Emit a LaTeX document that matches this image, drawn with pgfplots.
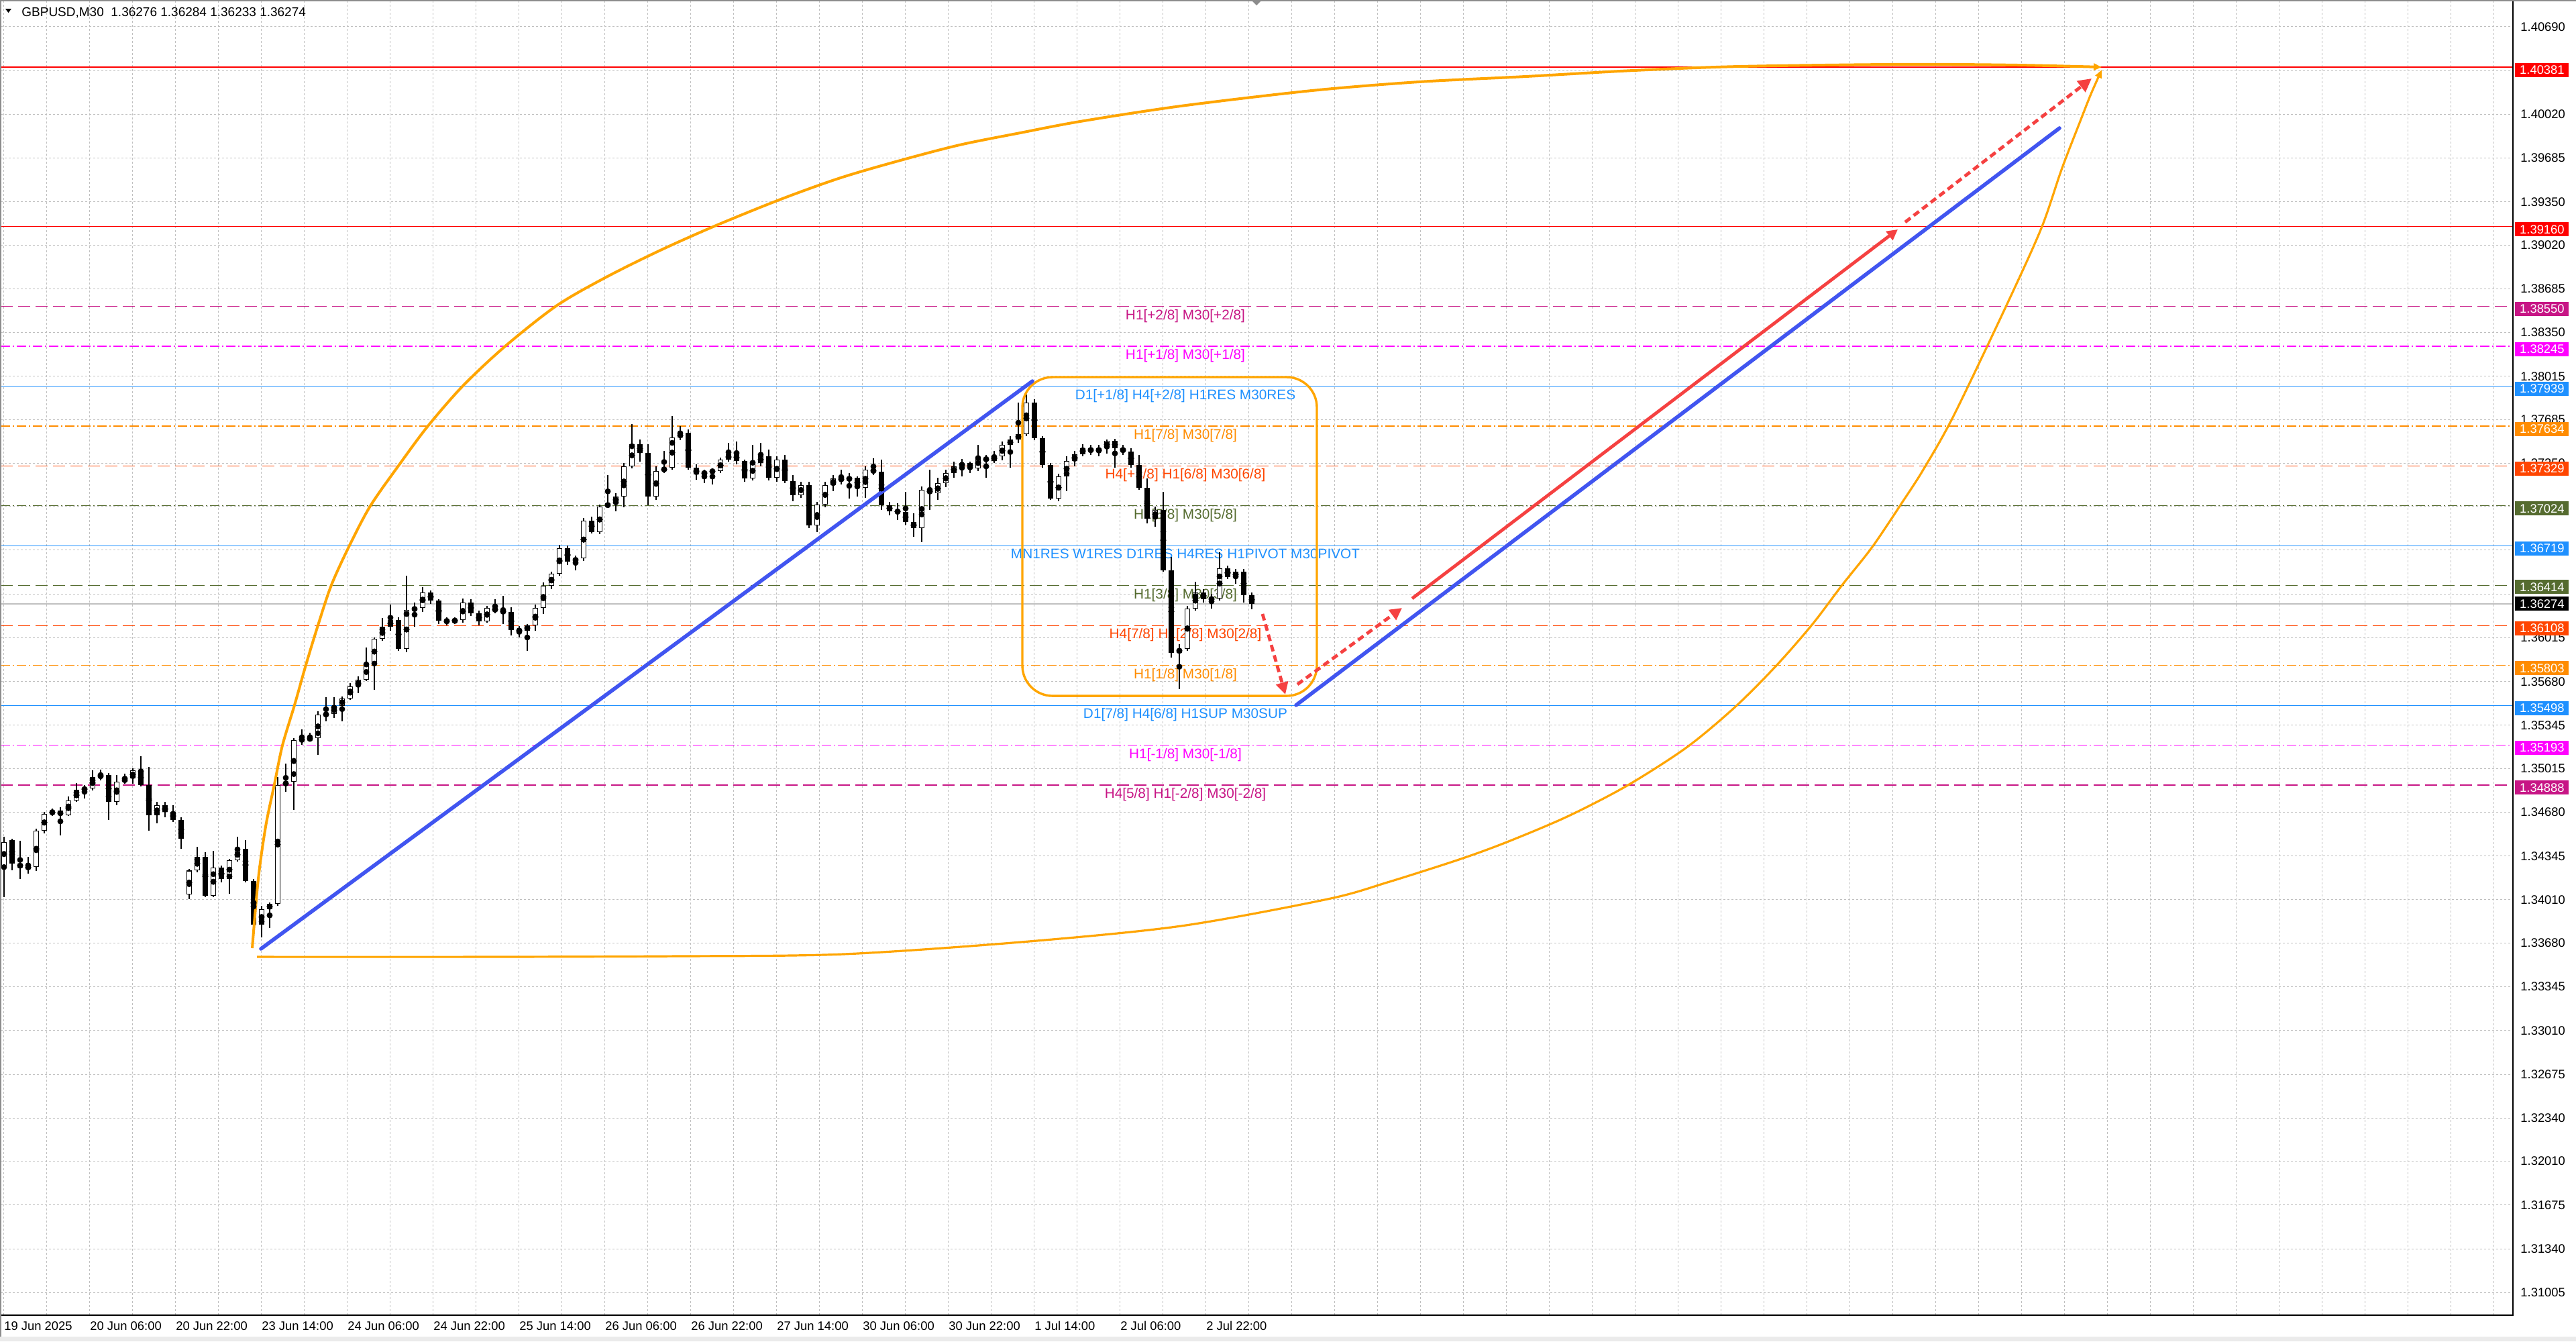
\documentclass[border=0pt]{standalone}
\usepackage{fontspec}
\setmainfont{Liberation Sans}
\usepackage{pgfplots}
\usepackage{pgfplotstable}
\pgfplotsset{compat=1.18}
\usetikzlibrary{arrows.meta}

\definecolor{dblue}{RGB}{30,144,255}
\definecolor{dorange}{RGB}{255,140,0}
\definecolor{ored}{RGB}{255,69,0}
\definecolor{dolive}{RGB}{85,107,47}
\definecolor{mvr}{RGB}{199,21,133}
\definecolor{mag}{RGB}{255,0,255}
\definecolor{lred}{RGB}{255,0,0}
\definecolor{curv}{RGB}{255,165,0}
\definecolor{tblue}{RGB}{65,85,240}
\definecolor{arred}{RGB}{245,65,65}
\definecolor{gridc}{RGB}{192,192,192}

\newcommand\tickfont{\fontsize{9.2pt}{11pt}\selectfont}
\newcommand\lvlfont{\fontsize{10.4pt}{12pt}\selectfont}
\newcommand\titlefont{\fontsize{9.5pt}{11pt}\selectfont}

\tikzset{lvldash/.style={dash pattern=on 9pt off 4pt},
         lvldot/.style={dash pattern=on 7pt off 2pt on 1pt off 2pt}}

\newcommand\lvl[2]{\addplot[#2, line width=0.6pt, forget plot] coordinates {(1,#1) (3746,#1)};}
\newcommand\lvltxt[3]{\node[anchor=north, inner sep=0pt, yshift=-2pt, text=#2, font=\lvlfont] at (axis cs:1767,#1) {#3};}
\newcommand\rlab[3]{\node[fill=#2, text=white, font=\tickfont, minimum width=40pt, minimum height=10.5pt, inner sep=0pt, anchor=west, yshift=#3] at (axis cs:3749,#1) {#1};}

% GBPUSD M30 candles (each row = one candle, open high low close)
\pgfplotstableread{
o h l c
1.34271 1.34492 1.34030 1.34451
1.34467 1.34477 1.34235 1.34287
1.34287 1.34462 1.34169 1.34256
1.34256 1.34338 1.34210 1.34261
1.34261 1.34553 1.34230 1.34538
1.34538 1.34682 1.34518 1.34667
1.34667 1.34707 1.34651 1.34692
1.34692 1.34718 1.34502 1.34656
1.34656 1.34800 1.34651 1.34770
1.34770 1.34903 1.34759 1.34852
1.34852 1.34888 1.34785 1.34862
1.34862 1.35001 1.34847 1.34949
1.34949 1.35006 1.34924 1.34964
1.34964 1.34980 1.34621 1.34759
1.34759 1.34964 1.34733 1.34913
1.34913 1.34975 1.34898 1.34939
1.34939 1.35016 1.34898 1.35001
1.35001 1.35108 1.34878 1.34888
1.34888 1.35027 1.34538 1.34656
1.34656 1.34759 1.34595 1.34733
1.34733 1.34759 1.34641 1.34682
1.34682 1.34733 1.34605 1.34621
1.34621 1.34641 1.34399 1.34477
1.34051 1.34245 1.34015 1.34235
1.34235 1.34415 1.34220 1.34338
1.34338 1.34374 1.34030 1.34040
1.34040 1.34384 1.34030 1.34256
1.34256 1.34271 1.34143 1.34169
1.34169 1.34323 1.34056 1.34313
1.34313 1.34492 1.34302 1.34399
1.34399 1.34467 1.34143 1.34154
1.34154 1.34169 1.33748 1.33820
1.33820 1.33963 1.33722 1.33937
1.33937 1.33989 1.33794 1.33979
1.33979 1.34949 1.33963 1.34888
1.34888 1.35052 1.34836 1.34913
1.34913 1.35247 1.34697 1.35232
1.35232 1.35314 1.35196 1.35237
1.35237 1.35288 1.35221 1.35247
1.35247 1.35452 1.35118 1.35426
1.35426 1.35560 1.35375 1.35431
1.35431 1.35560 1.35401 1.35494
1.35494 1.35565 1.35375 1.35550
1.35550 1.35668 1.35540 1.35643
1.35643 1.35720 1.35591 1.35694
1.35694 1.35940 1.35683 1.35812
1.35812 1.36017 1.35617 1.36007
1.36007 1.36166 1.35991 1.36099
1.36099 1.36269 1.36069 1.36150
1.36150 1.36171 1.35915 1.35930
1.35930 1.36490 1.35905 1.36228
1.36228 1.36284 1.36099 1.36243
1.36243 1.36403 1.36213 1.36362
1.36362 1.36377 1.36274 1.36300
1.36300 1.36310 1.36120 1.36146
1.36146 1.36171 1.36110 1.36141
1.36141 1.36171 1.36120 1.36150
1.36150 1.36315 1.36130 1.36284
1.36284 1.36310 1.36181 1.36202
1.36202 1.36223 1.36110 1.36141
1.36141 1.36259 1.36130 1.36243
1.36243 1.36310 1.36202 1.36218
1.36218 1.36336 1.36120 1.36213
1.36213 1.36248 1.36033 1.36074
1.36074 1.36105 1.36017 1.36069
1.36069 1.36120 1.35915 1.36110
1.36110 1.36269 1.36069 1.36243
1.36243 1.36438 1.36197 1.36413
1.36413 1.36521 1.36387 1.36505
1.36505 1.36726 1.36490 1.36700
1.36700 1.36721 1.36572 1.36598
1.36598 1.36644 1.36531 1.36624
1.36624 1.36932 1.36603 1.36911
1.36911 1.36942 1.36813 1.36824
1.36824 1.37034 1.36808 1.37018
1.37018 1.37260 1.37013 1.37044
1.37044 1.37121 1.36983 1.37096
1.37096 1.37352 1.37013 1.37326
1.37326 1.37650 1.37311 1.37496
1.37496 1.37532 1.37363 1.37429
1.37429 1.37496 1.37029 1.37096
1.37096 1.37326 1.37070 1.37291
1.37291 1.37445 1.37275 1.37316
1.37316 1.37712 1.37301 1.37548
1.37548 1.37634 1.37527 1.37583
1.37583 1.37609 1.37301 1.37316
1.37316 1.37342 1.37224 1.37265
1.37265 1.37301 1.37198 1.37286
1.37286 1.37311 1.37188 1.37291
1.37291 1.37394 1.37275 1.37378
1.37378 1.37506 1.37363 1.37419
1.37419 1.37516 1.37342 1.37368
1.37368 1.37378 1.37208 1.37234
1.37234 1.37491 1.37219 1.37352
1.37352 1.37506 1.37326 1.37404
1.37404 1.37455 1.37219 1.37240
1.37240 1.37404 1.37208 1.37378
1.37378 1.37414 1.37198 1.37214
1.37214 1.37260 1.37060 1.37106
1.37106 1.37208 1.37085 1.37183
1.37183 1.37208 1.36854 1.36875
1.36875 1.37054 1.36824 1.37034
1.37034 1.37208 1.37013 1.37183
1.37183 1.37260 1.37137 1.37234
1.37234 1.37301 1.37188 1.37224
1.37224 1.37275 1.37080 1.37240
1.37240 1.37250 1.37096 1.37162
1.37162 1.37326 1.37085 1.37301
1.37301 1.37389 1.37260 1.37286
1.37286 1.37378 1.36993 1.37029
1.37029 1.37054 1.36952 1.36983
1.36983 1.37044 1.36916 1.36978
1.36978 1.37131 1.36880 1.36901
1.36901 1.36967 1.36788 1.36854
1.36854 1.37172 1.36747 1.37147
1.37147 1.37301 1.36993 1.37121
1.37121 1.37240 1.37070 1.37198
1.37198 1.37301 1.37167 1.37275
1.37275 1.37363 1.37240 1.37326
1.37326 1.37383 1.37250 1.37352
1.37352 1.37363 1.37275 1.37311
1.37311 1.37491 1.37291 1.37394
1.37394 1.37414 1.37240 1.37368
1.37368 1.37445 1.37352 1.37404
1.37404 1.37516 1.37373 1.37491
1.37491 1.37558 1.37316 1.37532
1.37532 1.37815 1.37506 1.37573
1.37573 1.37876 1.37558 1.37815
1.37815 1.37840 1.37527 1.37542
1.37542 1.37558 1.37316 1.37337
1.37337 1.37352 1.37070 1.37080
1.37080 1.37270 1.37060 1.37250
1.37250 1.37404 1.37137 1.37368
1.37368 1.37445 1.37326 1.37419
1.37419 1.37496 1.37404 1.37465
1.37465 1.37491 1.37414 1.37440
1.37440 1.37491 1.37404 1.37465
1.37465 1.37532 1.37424 1.37522
1.37522 1.37537 1.37316 1.37465
1.37465 1.37491 1.37414 1.37440
1.37440 1.37465 1.37316 1.37337
1.37337 1.37414 1.37147 1.37162
1.37162 1.37234 1.36890 1.36927
1.36927 1.37018 1.36864 1.36993
1.36993 1.37131 1.36521 1.36531
1.36531 1.36634 1.35863 1.35900
1.35900 1.35966 1.35622 1.35930
1.35930 1.36259 1.35915 1.36238
1.36238 1.36443 1.36223 1.36362
1.36362 1.36387 1.36284 1.36310
1.36310 1.36351 1.36238 1.36315
1.36315 1.36670 1.36300 1.36546
1.36546 1.36567 1.36464 1.36479
1.36479 1.36541 1.36428 1.36521
1.36521 1.36541 1.36284 1.36340
1.36340 1.36362 1.36233 1.36274
}\candles

\begin{document}
\begin{tikzpicture}
\path (0,0) rectangle (1920pt,-999.5pt);
\begin{axis}[
  at={(0.5pt,-1pt)}, anchor=north west,
  scale only axis, width=1872.5pt, height=979pt,
  xmin=1, xmax=3746, ymin=1.308318, ymax=1.408841,
  clip=false, set layers,
  axis line style={draw=none},
  major tick length=0pt, minor tick length=0pt,
  xtick={5,69,...,3717},
  xticklabels={19 Jun 2025,{},20 Jun 06:00,{},20 Jun 22:00,{},23 Jun 14:00,{},24 Jun 06:00,{},24 Jun 22:00,{},25 Jun 14:00,{},26 Jun 06:00,{},26 Jun 22:00,{},27 Jun 14:00,{},30 Jun 06:00,{},30 Jun 22:00,{},1 Jul 14:00,{},2 Jul 06:00,{},2 Jul 22:00,{},{},{},{},{},{},{},{},{},{},{},{},{},{},{},{},{},{},{},{},{},{},{},{},{},{},{},{},{},{},{}},
  xticklabel style={anchor=north west, inner sep=0pt, font=\tickfont, yshift=-4.5pt, xshift=0.5pt},
  ytick={1.40690,1.40355,1.40020,1.39685,1.39350,1.39020,1.38685,1.38350,1.38015,1.37685,1.37350,1.37020,1.36685,1.36350,1.36015,1.35680,1.35345,1.35015,1.34680,1.34345,1.34010,1.33680,1.33345,1.33010,1.32675,1.32340,1.32010,1.31675,1.31340,1.31005},
  yticklabels={1.40690,{},1.40020,1.39685,1.39350,1.39020,1.38685,1.38350,1.38015,1.37685,1.37350,{},{},{},1.36015,1.35680,1.35345,1.35015,1.34680,1.34345,1.34010,1.33680,1.33345,1.33010,1.32675,1.32340,1.32010,1.31675,1.31340,1.31005},
  yticklabel pos=right,
  yticklabel style={anchor=west, inner sep=0pt, font=\tickfont, xshift=5.5pt},
  grid=major,
  major grid style={gridc, line width=0.5pt, dash pattern=on 1.5pt off 1.5pt},
]
% level lines
\lvl{1.40381}{lred}
\lvl{1.39160}{lred}
\lvl{1.38550}{mvr, lvldash}
\lvl{1.38245}{mag, lvldot}
\lvl{1.37939}{dblue}
\lvl{1.37634}{dorange, lvldot}
\lvl{1.37329}{ored, lvldash}
\lvl{1.37024}{dolive, lvldot}
\lvl{1.36719}{dblue}
\lvl{1.36414}{dolive, lvldash}
\lvl{1.36274}{gridc}
\lvl{1.36108}{ored, lvldash}
\lvl{1.35803}{dorange, lvldot}
\lvl{1.35498}{dblue}
\lvl{1.35193}{mag, lvldot}
\lvl{1.34888}{mvr, lvldash}
% level texts
\lvltxt{1.38550}{mvr}{H1[+2/8] M30[+2/8]}
\lvltxt{1.38245}{mag}{H1[+1/8] M30[+1/8]}
\lvltxt{1.37939}{dblue}{D1[+1/8] H4[+2/8] H1RES M30RES}
\lvltxt{1.37634}{dorange}{H1[7/8] M30[7/8]}
\lvltxt{1.37329}{ored}{H4[+1/8] H1[6/8] M30[6/8]}
\lvltxt{1.37024}{dolive}{H1[5/8] M30[5/8]}
\lvltxt{1.36719}{dblue}{MN1RES W1RES D1RES H4RES H1PIVOT M30PIVOT}
\lvltxt{1.36414}{dolive}{H1[3/8] M30[3/8]}
\lvltxt{1.36108}{ored}{H4[7/8] H1[2/8] M30[2/8]}
\lvltxt{1.35803}{dorange}{H1[1/8] M30[1/8]}
\lvltxt{1.35498}{dblue}{D1[7/8] H4[6/8] H1SUP M30SUP}
\lvltxt{1.35193}{mag}{H1[-1/8] M30[-1/8]}
\lvltxt{1.34888}{mvr}{H4[5/8] H1[-2/8] M30[-2/8]}
% candles: wicks
\addplot[only marks, mark=none, forget plot,
  error bars/.cd, y dir=both, y explicit, error mark=none,
  error bar style={draw=black, solid, line width=0.8pt}]
  table[x expr={\coordindex*12+6}, y expr={(\thisrow{h}+\thisrow{l})/2}, y error expr={(\thisrow{h}-\thisrow{l})/2}] {\candles};
% bodies
\addplot[only marks, mark=none, forget plot,
  error bars/.cd, y dir=both, y explicit, error mark=none,
  error bar style={draw=black, solid, line width=4pt}]
  table[x expr={\coordindex*12+6}, y expr={(\thisrow{o}+\thisrow{c})/2}, y error expr={max(abs(\thisrow{c}-\thisrow{o})/2,0.00003)}] {\candles};
% hollow (bullish) bodies
\addplot[only marks, mark=none, forget plot,
  error bars/.cd, y dir=both, y explicit, error mark=none,
  error bar style={draw=white, solid, line width=2.8pt}]
  table[x expr={\coordindex*12+6}, y expr={(\thisrow{o}+\thisrow{c})/2}, y error expr={max((\thisrow{c}-\thisrow{o})/2-0.00006,0)}] {\candles};
% orange rounded box
\draw[curv, line width=1.7pt, rounded corners=22.5pt] (axis cs:1524,1.38009) rectangle (axis cs:1963,1.35570);
% orange curves
\addplot[curv, line width=2pt, smooth, tension=0.5, forget plot, -{Triangle[length=6pt,width=5pt]}] coordinates {
(376,1.33640) (385,1.34169) (396,1.34570) (409,1.34893) (421,1.35191) (439,1.35499) (456,1.35807) (474,1.36110) (494,1.36418) (521,1.36721) (552,1.37023) (594,1.37331) (637,1.37629) (690,1.37942) (753,1.38245) (829,1.38553) (900,1.38764) (980,1.38969) (1065,1.39164) (1164,1.39370) (1253,1.39534) (1342,1.39667) (1431,1.39786) (1521,1.39878) (1610,1.39965) (1760,1.40083) (1955,1.40201) (2115,1.40268) (2274,1.40309) (2434,1.40355) (2593,1.40386) (2832,1.40402) (3000,1.40397) (3133,1.40381)};
\addplot[curv, line width=1.6pt, smooth, tension=0.5, forget plot, -{Triangle[length=6pt,width=5pt]}] coordinates {
(383,1.33573) (700,1.33573) (1000,1.33578) (1253,1.33593) (1521,1.33686) (1760,1.33809) (1979,1.34015) (2068,1.34143) (2175,1.34318) (2246,1.34451) (2336,1.34646) (2425,1.34882) (2514,1.35175) (2586,1.35483) (2648,1.35802) (2702,1.36120) (2746,1.36418) (2791,1.36710) (2836,1.37054) (2867,1.37301) (2912,1.37711) (2992,1.38569) (3043,1.39149) (3073,1.39596) (3100,1.39955) (3117,1.40176) (3133,1.40360)};
% blue trend lines
\addplot[tblue, line width=2.8pt, line cap=round, forget plot] coordinates {(389,1.33635) (1539,1.37978)};
\addplot[tblue, line width=2.8pt, line cap=round, forget plot] coordinates {(1932,1.35499) (3070,1.39914)};
% red arrows
\addplot[arred, line width=2.4pt, dash pattern=on 5pt off 3pt, forget plot, -{Triangle[length=9pt,width=9pt]}] coordinates {(1882,1.36197) (1916,1.35581)};
\addplot[arred, line width=2.4pt, dash pattern=on 5pt off 3pt, forget plot, -{Triangle[length=9pt,width=9pt]}] coordinates {(1934,1.35658) (2090,1.36243)};
\addplot[arred, line width=2.4pt, forget plot, -{Triangle[length=8pt,width=8pt]}] coordinates {(2105,1.36315) (2829,1.39139)};
\addplot[arred, line width=2.4pt, dash pattern=on 5pt off 3pt, forget plot, -{Triangle[length=10pt,width=10pt]}] coordinates {(2840,1.39195) (3118,1.40294)};
% right-side price labels
\rlab{1.40381}{lred}{-2pt}
\rlab{1.39160}{lred}{-2pt}
\rlab{1.38550}{mvr}{-2pt}
\rlab{1.38245}{mag}{-2pt}
\rlab{1.37939}{dblue}{-2pt}
\rlab{1.37634}{dorange}{-2pt}
\rlab{1.37329}{ored}{-2pt}
\rlab{1.37024}{dolive}{-2pt}
\rlab{1.36719}{dblue}{-2pt}
\rlab{1.36414}{dolive}{-1pt}
\rlab{1.36274}{black}{0pt}
\rlab{1.36108}{ored}{-2pt}
\rlab{1.35803}{dorange}{-2pt}
\rlab{1.35498}{dblue}{-2pt}
\rlab{1.35193}{mag}{-2pt}
\rlab{1.34888}{mvr}{-2pt}
\end{axis}
% frame and window details
\draw[black, line width=1pt] (1873pt,0pt) -- (1873pt,-980pt) -- (0pt,-980pt);
\draw[black!45, line width=1pt] (0.5pt,-996pt) -- (0.5pt,-0.5pt) -- (1920pt,-0.5pt);
\fill[black!8] (0,-996pt) rectangle (1920pt,-999.5pt);
\fill[black!45] (933pt,-0.5pt) -- (940pt,-0.5pt) -- (936.5pt,-4pt) -- cycle;
\fill[black] (4pt,-6.5pt) -- (8.5pt,-6.5pt) -- (6.25pt,-9.5pt) -- cycle;
\node[anchor=west, inner sep=0pt, font=\titlefont] at (16pt,-9.5pt) {GBPUSD,M30\ \ 1.36276 1.36284 1.36233 1.36274};
\pgfresetboundingbox
\useasboundingbox (0,0) rectangle (1920pt,-999.5pt);
\end{tikzpicture}
\end{document}
